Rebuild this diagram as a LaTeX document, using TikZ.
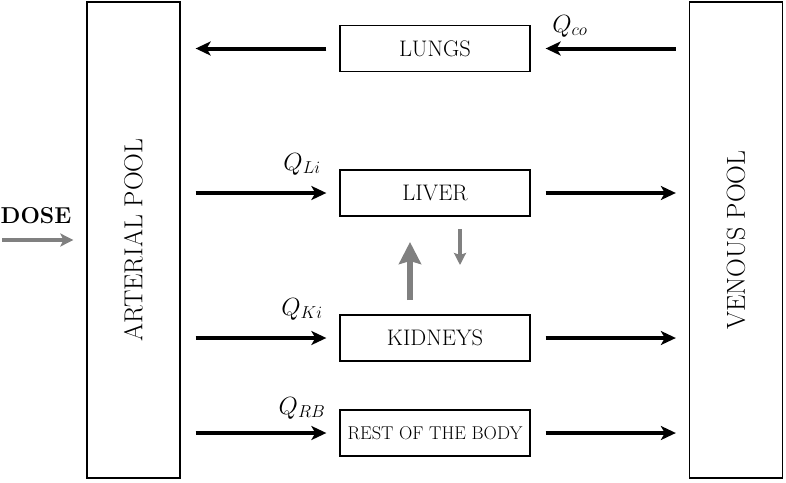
\documentclass[tikz,border=0pt]{standalone}
\usetikzlibrary{arrows.meta}
\newcommand\pooltxt{\fontsize{26}{31}\selectfont}
\newcommand\organtxt{\fontsize{22.5}{27}\selectfont}
\newcommand\resttxt{\fontsize{18.5}{22}\selectfont}
\newcommand\qtxt{\fontsize{23}{28}\selectfont}
\begin{document}
\begin{tikzpicture}[x=1pt,y=-1pt,
  pool/.style={draw,line width=1.3pt,minimum width=93pt,minimum height=476pt,inner sep=0pt},
  organ/.style={draw,line width=1.3pt,minimum width=190pt,minimum height=46pt,inner sep=0pt,font=\organtxt},
  flow/.style={line width=4pt,-{Stealth[length=15pt,width=14pt,inset=4pt]}},
  gflow/.style={gray,line width=4.5pt,-{Stealth[length=13pt,width=13pt,inset=3pt]}},
  qlab/.style={font=\qtxt}]
\useasboundingbox (0,0) rectangle (786,482);
\node[pool,label={[rotate=90,font=\pooltxt]center:ARTERIAL POOL}] (art) at (133.5,240) {};
\node[pool,label={[rotate=90,font=\pooltxt]center:VENOUS POOL}] (ven) at (736,240) {};
\node[organ] (lungs) at (435,48.5) {LUNGS};
\node[organ] (liver) at (435,193) {LIVER};
\node[organ] (kid) at (435,338) {KIDNEYS};
\node[organ,font=\resttxt] (rest) at (435,433) {REST OF THE BODY};
% lungs
\draw[flow,shorten <=13pt,shorten >=15pt] (lungs.west) -- (lungs.west -| art.east);
\draw[flow,shorten <=13pt,shorten >=15pt] (lungs.east -| ven.west) -- (lungs.east);
\node[qlab] (qco) at (570,26) {$Q_{co}$};
% organs
\foreach \o in {liver,kid,rest}{
  \draw[flow,shorten <=15pt,shorten >=13pt] (\o.west -| art.east) -- (\o.west);
  \draw[flow,shorten <=15pt,shorten >=13pt] (\o.east) -- (\o.east -| ven.west);
}
\node[qlab] (qli) at (302,164) {$Q_{Li}$};
\node[qlab] (qki) at (302,309) {$Q_{Ki}$};
\node[qlab] (qrb) at (302,408) {$Q_{RB}$};
% grey exchange
\coordinate (ku) at (410,315);
\coordinate (lu) at (410,216);
\draw[gray,line width=6.5pt,-{Stealth[length=22pt,width=22pt,inset=3pt]},shorten <=15pt,shorten >=26pt] (ku) -- (lu);
\coordinate (ld) at (460,216);
\coordinate (kd) at (460,315);
\draw[gray,line width=3.5pt,-{Stealth[length=12pt,width=12pt,inset=2pt]},shorten <=13pt,shorten >=50pt] (ld) -- (kd);
% dose
\node[font=\qtxt\bfseries] (dose) at (36,216) {DOSE};
\coordinate (ds) at (2,240);
\draw[gflow,shorten >=13pt] (ds) -- (ds -| art.west);
\end{tikzpicture}
\end{document}
